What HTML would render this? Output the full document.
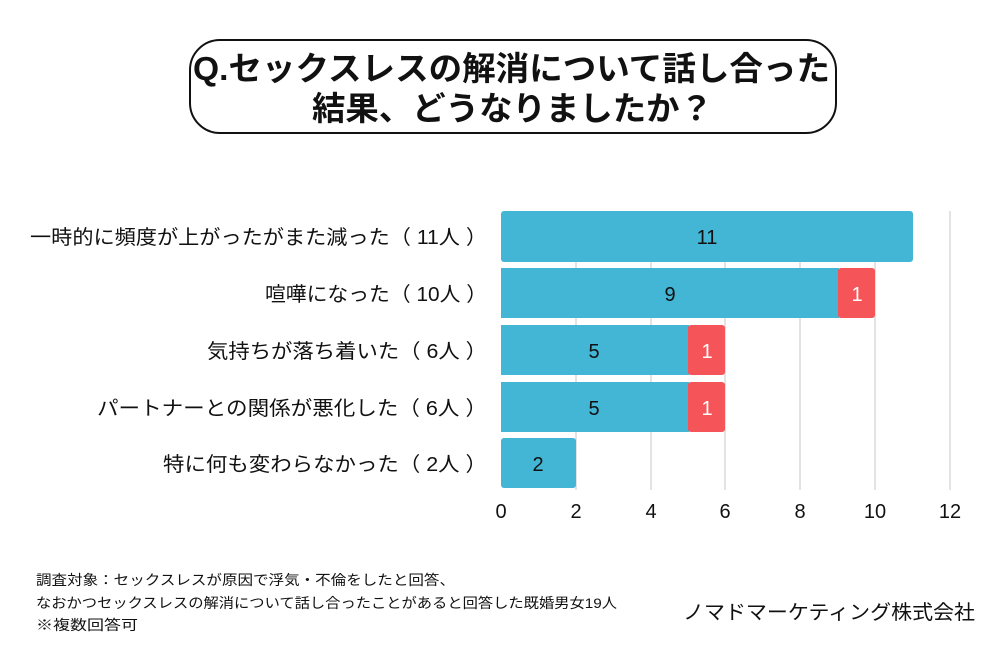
<!DOCTYPE html>
<html><head><meta charset="utf-8"><style>
body{margin:0;background:#fff;}
svg text{font-family:"Liberation Sans","Noto Sans CJK JP",sans-serif;}
</style></head><body>
<svg width="1000" height="650" viewBox="0 0 1000 650" xmlns="http://www.w3.org/2000/svg">
<rect width="1000" height="650" fill="#fff"/>
<rect x="190" y="40" width="646" height="93" rx="30" fill="#fff" stroke="#111" stroke-width="2"/>
<text x="193" y="80" font-size="33" font-weight="bold" fill="#111" textLength="637" lengthAdjust="spacingAndGlyphs">Q.セックスレスの解消について話し合った</text>
<text x="312" y="120" font-size="33" font-weight="bold" fill="#111" textLength="401" lengthAdjust="spacingAndGlyphs">結果、どうなりましたか？</text>
<g stroke="#d0d0d0" stroke-width="1.2">
<line x1="576" y1="211" x2="576" y2="490"/><line x1="651" y1="211" x2="651" y2="490"/>
<line x1="725" y1="211" x2="725" y2="490"/><line x1="800" y1="211" x2="800" y2="490"/>
<line x1="875" y1="211" x2="875" y2="490"/><line x1="950" y1="211" x2="950" y2="490"/>
</g>
<g fill="#43b5d5">
<rect x="501" y="211" width="412" height="51" rx="3"/>
<rect x="501" y="268" width="338" height="50"/>
<rect x="501" y="325" width="188" height="50"/>
<rect x="501" y="382" width="188" height="50"/>
<rect x="501" y="438" width="75" height="50" rx="3"/>
</g>
<g fill="#f55458">
<rect x="838" y="268" width="37" height="50" rx="3"/>
<rect x="688" y="325" width="37" height="50" rx="3"/>
<rect x="688" y="382" width="37" height="50" rx="3"/>
</g>
<g font-size="20" text-anchor="middle" fill="#111">
<text x="707" y="244">11</text>
<text x="670" y="301">9</text>
<text x="594" y="358">5</text>
<text x="594" y="415">5</text>
<text x="538" y="471">2</text>
</g>
<g font-size="20" text-anchor="middle" fill="#fff">
<text x="857" y="301">1</text><text x="707" y="358">1</text><text x="707" y="415">1</text>
</g>
<g font-size="20" text-anchor="middle" fill="#111">
<text x="501" y="518">0</text><text x="576" y="518">2</text><text x="651" y="518">4</text>
<text x="725" y="518">6</text><text x="800" y="518">8</text><text x="875" y="518">10</text><text x="950" y="518">12</text>
</g>
<g font-size="20" fill="#111" lengthAdjust="spacingAndGlyphs">
<text x="30" y="244" textLength="457" lengthAdjust="spacingAndGlyphs">一時的に頻度が上がったがまた減った（ 11人 ）</text>
<text x="265" y="301" textLength="222" lengthAdjust="spacingAndGlyphs">喧嘩になった（ 10人 ）</text>
<text x="207" y="358" textLength="280" lengthAdjust="spacingAndGlyphs">気持ちが落ち着いた（ 6人 ）</text>
<text x="97" y="415" textLength="390" lengthAdjust="spacingAndGlyphs">パートナーとの関係が悪化した（ 6人 ）</text>
<text x="163" y="471" textLength="324" lengthAdjust="spacingAndGlyphs">特に何も変わらなかった（ 2人 ）</text>
</g>
<g font-size="14" fill="#111">
<text x="36" y="585" textLength="419" lengthAdjust="spacingAndGlyphs">調査対象：セックスレスが原因で浮気・不倫をしたと回答、</text>
<text x="36" y="608" textLength="581" lengthAdjust="spacingAndGlyphs">なおかつセックスレスの解消について話し合ったことがあると回答した既婚男女19人</text>
<text x="36" y="630" textLength="102" lengthAdjust="spacingAndGlyphs">※複数回答可</text>
</g>
<text x="683" y="619" font-size="20" fill="#111" textLength="292" lengthAdjust="spacingAndGlyphs">ノマドマーケティング株式会社</text>
</svg>
</body></html>
